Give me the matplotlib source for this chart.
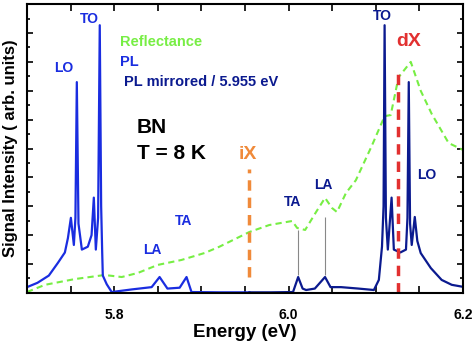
import matplotlib
matplotlib.use('Agg')
import matplotlib.pyplot as plt
from matplotlib.ticker import MultipleLocator

plt.rcParams['font.family'] = ['Liberation Sans', 'DejaVu Sans']
plt.rcParams['font.weight'] = 'bold'

# PL spectrum (left part, bright blue)
pl_x = [5.700, 5.712, 5.725, 5.7354, 5.7434, 5.7469, 5.7503, 5.7537, 5.7555, 5.7571,
        5.7590, 5.7629, 5.7697, 5.7740, 5.7766, 5.7789, 5.7815, 5.7834, 5.7850, 5.7862,
        5.7869, 5.7914, 5.7971, 5.820, 5.8429, 5.852, 5.861, 5.875, 5.8829, 5.8886,
        5.920, 5.955]
pl_y = [0.20, 0.35, 0.60, 1.04, 1.40, 1.90, 2.60, 1.66, 2.60, 7.30,
        2.40, 1.50, 1.60, 2.00, 3.30, 1.50, 2.60, 9.27, 3.00, 1.40,
        0.60, 0.30, 0.03, 0.12, 0.20, 0.55, 0.15, 0.18, 0.55, 0.03,
        0.02, 0.02]

# PL mirrored / 5.955 eV (navy)
pm_x = [5.955, 5.980, 6.005, 6.0109, 6.016, 6.020, 6.030, 6.0417, 6.048, 6.060,
        6.080, 6.0977, 6.1034, 6.107, 6.1088, 6.110, 6.1115, 6.1137, 6.118, 6.1206,
        6.128, 6.1345, 6.1362, 6.1377, 6.1392, 6.1411, 6.1446, 6.1475, 6.1514, 6.163,
        6.1754, 6.187, 6.200]
pm_y = [0.02, 0.02, 0.03, 0.55, 0.15, 0.10, 0.15, 0.55, 0.20, 0.20,
        0.15, 0.10, 0.45, 1.60, 3.00, 9.27, 2.60, 1.50, 3.30, 1.50,
        1.40, 1.50, 2.60, 7.30, 2.40, 1.66, 2.63, 1.80, 1.38, 0.86,
        0.45, 0.28, 0.21]

# Reflectance (green dashed)
rf_x = [5.700, 5.7206, 5.755, 5.789, 5.8086, 5.827, 5.850, 5.877, 5.9034, 5.9206,
        5.955, 5.9777, 6.004, 6.0097, 6.0189, 6.0314, 6.0417, 6.0497, 6.0554, 6.0657,
        6.077, 6.0954, 6.110, 6.117, 6.126, 6.140, 6.1514, 6.164, 6.1834, 6.200]
rf_y = [0.03, 0.28, 0.48, 0.62, 0.55, 0.69, 0.97, 1.14, 1.38, 1.60,
        2.11, 2.35, 2.49, 2.25, 2.18, 2.80, 3.29, 2.94, 2.80, 3.46,
        3.90, 5.10, 6.12, 6.16, 7.47, 8.00, 7.00, 6.20, 5.19, 4.95]

# thin guide lines for mirrored phonon replicas
guide_x = [6.0109, 6.0417]
guide_lo = [0.62, 0.62]
guide_hi = [2.18, 2.63]

ix_energy = 5.955
dx_energy = 6.125

blue = '#1a2de0'
navy = '#0b1a8f'
green = '#77ee44'
orange = '#f08a3a'
red = '#e23030'

fig = plt.figure(figsize=(4.74, 3.45), dpi=100)
ax = fig.add_axes([0.057, 0.151, 0.920, 0.837])

ax.plot(rf_x, rf_y, color=green, lw=1.5, dashes=(3, 2))
ax.plot(pl_x, pl_y, color=blue, lw=1.6)
ax.plot(pm_x, pm_y, color=navy, lw=1.6)
ax.vlines(guide_x, guide_lo, guide_hi, color='#888888', lw=0.8)
ax.vlines([ix_energy], [0.55], [4.3], color=orange, lw=2.5, linestyles=(0, (3, 2)))
ax.vlines([dx_energy], [0.0], [7.7], color=red, lw=2.5, linestyles=(0, (3, 2)))

ax.set_xlim(5.7, 6.2)
ax.set_ylim(0, 10)

# peak labels
ax.text(5.772, 9.5, 'TO', color=blue, fontsize=10, ha='center', va='center')
ax.text(5.742, 7.8, 'LO', color=blue, fontsize=10, ha='center', va='center')
ax.text(5.844, 1.5, 'LA', color=blue, fontsize=10, ha='center', va='center')
ax.text(5.880, 2.5, 'TA', color=blue, fontsize=10, ha='center', va='center')
ax.text(6.004, 3.15, 'TA', color=navy, fontsize=10, ha='center', va='center')
ax.text(6.040, 3.74, 'LA', color=navy, fontsize=10, ha='center', va='center')
ax.text(6.107, 9.6, 'TO', color=navy, fontsize=10, ha='center', va='center')
ax.text(6.158, 4.1, 'LO', color=navy, fontsize=10, ha='center', va='center')

# legend-like texts
ax.text(5.807, 8.7, 'Reflectance', color=green, fontsize=10.5, ha='left', va='center')
ax.text(5.807, 8.0, 'PL', color=blue, fontsize=10.5, ha='left', va='center')
ax.text(5.811, 7.3, 'PL mirrored / 5.955 eV', color=navy, fontsize=10.5, ha='left', va='center')

ax.text(5.826, 5.74, 'BN', color='black', fontsize=15, ha='left', va='center')
ax.text(5.826, 4.84, 'T = 8 K', color='black', fontsize=15, ha='left', va='center')

ax.text(5.9535, 4.78, 'iX', color=orange, fontsize=14, ha='center', va='center')
ax.text(6.1377, 8.7, 'dX', color=red, fontsize=14, ha='center', va='center')

# axes styling
ax.xaxis.set_major_locator(MultipleLocator(0.05))
ax.xaxis.set_major_formatter(plt.FuncFormatter(
    lambda v, p: f'{v:.1f}' if abs(round(v / 0.2) * 0.2 - v) < 1e-6 and v > 5.75 else ''))
ax.yaxis.set_major_locator(MultipleLocator(1))
ax.yaxis.set_minor_locator(MultipleLocator(0.5))
ax.set_yticklabels([])
ax.tick_params(which='both', direction='in', top=True, right=True, width=1.2)
ax.tick_params(which='major', axis='x', length=5, labelsize=10, pad=11)
ax.tick_params(which='major', axis='y', length=4)
ax.tick_params(which='minor', length=2.5)
for s in ax.spines.values():
    s.set_linewidth(1.5)

ax.set_xlabel('Energy (eV)', fontsize=13.5, fontweight='bold', labelpad=1)
ax.set_ylabel('Signal Intensity ( arb. units)', fontsize=12, fontweight='bold', labelpad=3)

fig.savefig('out.png', dpi=100)
